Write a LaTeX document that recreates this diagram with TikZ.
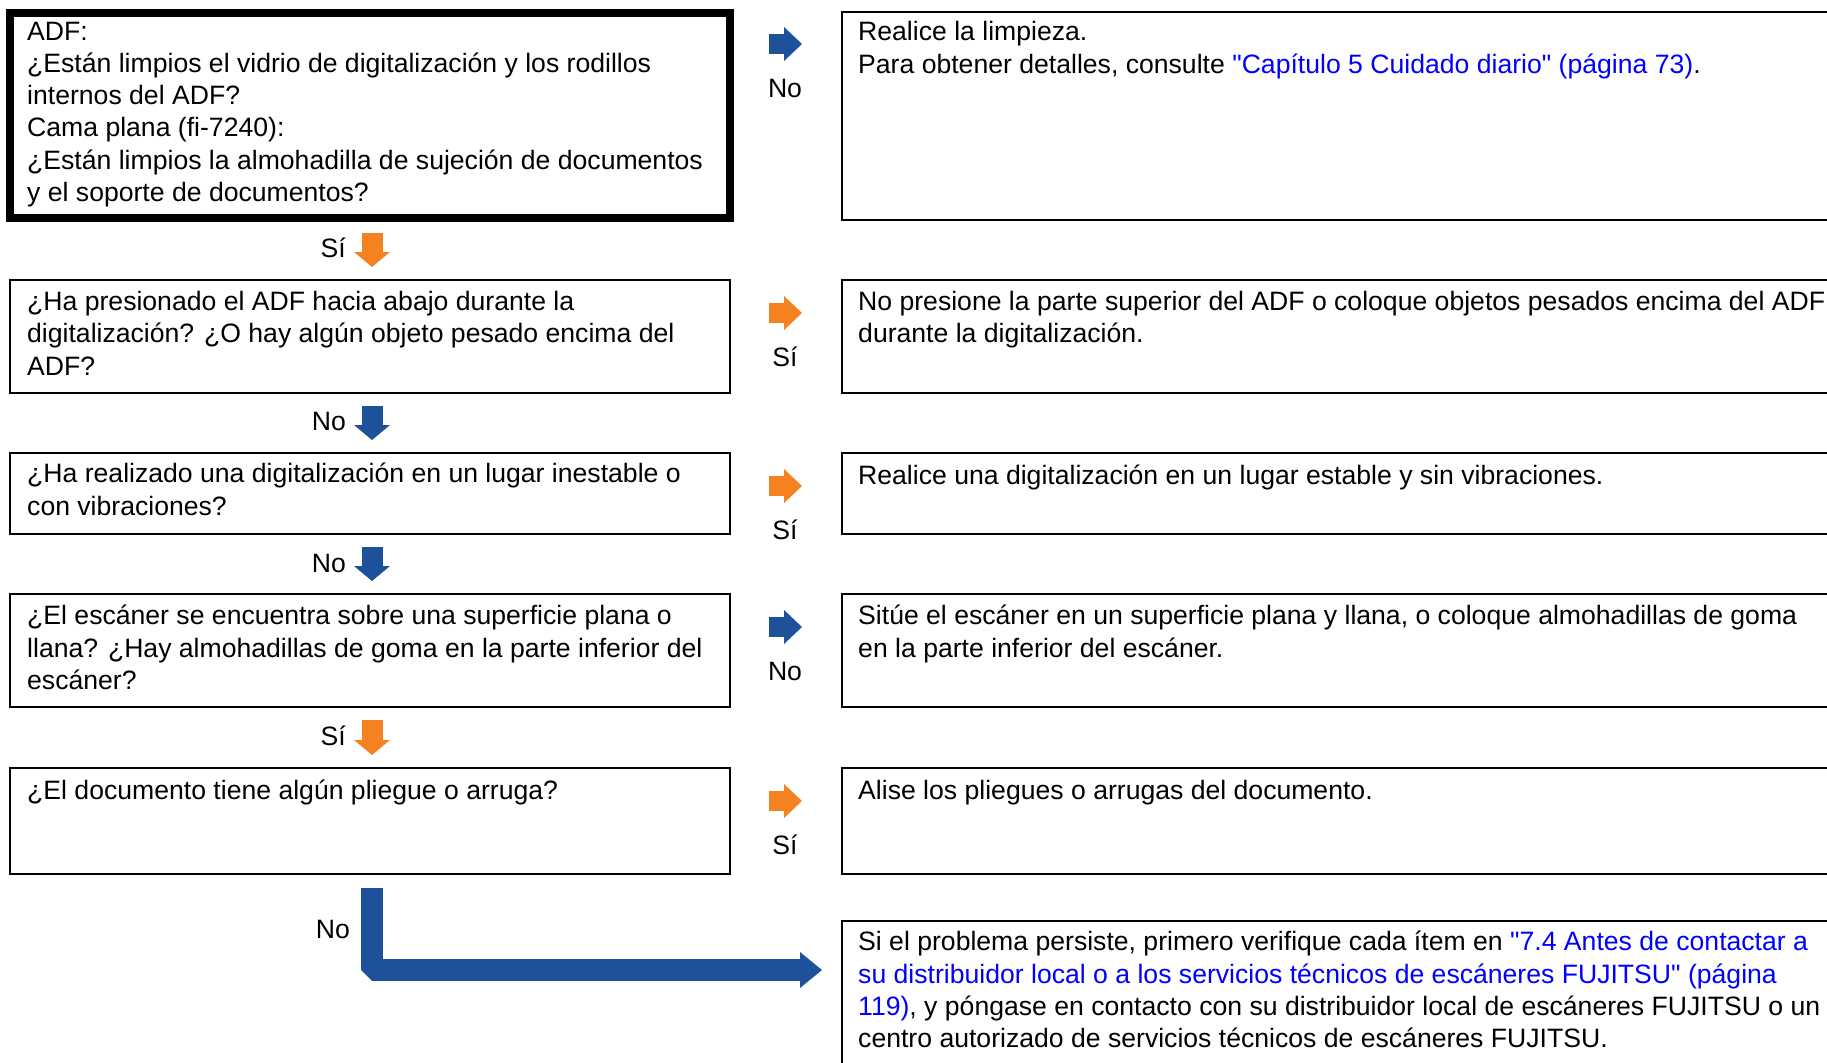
\documentclass[tikz,border=0pt]{standalone}
\usepackage{fontspec}
\setmainfont{Liberation Sans}[Ligatures=TeXOff]
\usetikzlibrary{arrows.meta,calc}
\definecolor{siorange}{RGB}{245,130,32}
\definecolor{noblue}{RGB}{29,82,155}
\definecolor{linkblue}{RGB}{0,0,255}
\newcommand{\flowfont}{\fontsize{26.6}{32.3}\selectfont}
\newcommand{\lnk}[1]{\textcolor{linkblue}{#1}}

\begin{document}
\begin{tikzpicture}[x=1pt, y=-1pt,
    every node/.style={font=\flowfont},
    qbox/.style={rectangle, draw=black, line width=2pt, anchor=north west,
                 inner sep=0pt, outer sep=0pt, minimum width=720pt},
    abox/.style={qbox, minimum width=1100pt},
    txt/.style={anchor=north west, inner sep=0pt, align=left, execute at begin node=\strut},
    lbl/.style={inner sep=0pt, text height=19pt, text depth=0pt},
    rarrow/.style={line width=20pt, -{Triangle[width=34pt, length=18pt, line width=0pt]},
                   shorten <=39pt, shorten >=40pt},
    darrow/.style={line width=21pt, -{Triangle[width=36pt, length=15pt, line width=0pt]},
                   shorten <=13pt, shorten >=13pt},
    siclr/.style={draw=siorange},
    noclr/.style={draw=noblue}
]
  \useasboundingbox (0,0) rectangle (1827,1062);
  \clip (0,0) rectangle (1827,1062);
  \coordinate (dnx) at (372,0);

  % question boxes (left column)
  \node[qbox, line width=8pt, minimum height=205pt] (b1) at (10,13) {};
  \node[qbox, minimum height=113pt] (b2) at (10,280) {};
  \node[qbox, minimum height=80.5pt] (b3) at (10,453) {};
  \node[qbox, minimum height=113pt] (b4) at (10,594) {};
  \node[qbox, minimum height=106pt] (b5) at (10,768) {};

  \node[txt] (b1t) at ($(b1.north west)+(17,8.5)$)
    {ADF:\\¿Están limpios el vidrio de digitalización y los rodillos\\internos del ADF?\\Cama plana (fi-7240):\\¿Están limpios la almohadilla de sujeción de documentos\\y el soporte de documentos?};
  \node[txt] (b2t) at ($(b2.north west)+(17,11)$)
    {¿Ha presionado el ADF hacia abajo durante la\\digitalización? ¿O hay algún objeto pesado encima del\\ADF?};
  \node[txt] (b3t) at ($(b3.north west)+(17,10)$)
    {¿Ha realizado una digitalización en un lugar inestable o\\con vibraciones?};
  \node[txt] (b4t) at ($(b4.north west)+(17,11)$)
    {¿El escáner se encuentra sobre una superficie plana o\\llana? ¿Hay almohadillas de goma en la parte inferior del\\escáner?};
  \node[txt] (b5t) at ($(b5.north west)+(17,8.5)$)
    {¿El documento tiene algún pliegue o arruga?};

  % action boxes (right column)
  \node[abox, minimum height=208pt] (r1) at (842,12) {};
  \node[abox, minimum height=113pt] (r2) at (842,280) {};
  \node[abox, minimum height=80.5pt] (r3) at (842,453) {};
  \node[abox, minimum height=113pt] (r4) at (842,594) {};
  \node[abox, minimum height=106pt] (r5) at (842,768) {};
  \node[abox, minimum height=300pt] (r6) at (842,921) {};

  \node[txt] (r1t) at ($(r1.north west)+(16,9.5)$)
    {Realice la limpieza.\\Para obtener detalles, consulte \lnk{"Capítulo 5 Cuidado diario" (página 73)}.};
  \node[txt] (r2t) at ($(r2.north west)+(16,11)$)
    {No presione la parte superior del ADF o coloque objetos pesados encima del ADF\\durante la digitalización.};
  \node[txt] (r3t) at ($(r3.north west)+(16,9)$)
    {Realice una digitalización en un lugar estable y sin vibraciones.};
  \node[txt] (r4t) at ($(r4.north west)+(16,11)$)
    {Sitúe el escáner en un superficie plana y llana, o coloque almohadillas de goma\\en la parte inferior del escáner.};
  \node[txt] (r5t) at ($(r5.north west)+(16,8.5)$)
    {Alise los pliegues o arrugas del documento.};
  \node[txt] (r6t) at ($(r6.north west)+(16,10)$)
    {Si el problema persiste, primero verifique cada ítem en \lnk{"7.4 Antes de contactar a}\\\lnk{su distribuidor local o a los servicios técnicos de escáneres FUJITSU" (página}\\\lnk{119)}, y póngase en contacto con su distribuidor local de escáneres FUJITSU o un\\centro autorizado de servicios técnicos de escáneres FUJITSU.};

  % answers to the right
  \draw[rarrow, noclr] ($(b1.north east)+(0,31)$) -- ($(r1.north west)+(0,32)$);
  \draw[rarrow, siclr] ($(b2.north east)+(0,33)$) -- ($(r2.north west)+(0,33)$);
  \draw[rarrow, siclr] ($(b3.north east)+(0,33)$) -- ($(r3.north west)+(0,33)$);
  \draw[rarrow, noclr] ($(b4.north east)+(0,33)$) -- ($(r4.north west)+(0,33)$);
  \draw[rarrow, siclr] ($(b5.north east)+(0,33)$) -- ($(r5.north west)+(0,33)$);
  \node[lbl] (no1) at (785,88) {No};
  \node[lbl] (si2) at (785,357) {Sí};
  \node[lbl] (si3) at (785,530) {Sí};
  \node[lbl] (no4) at (785,671) {No};
  \node[lbl] (si5) at (785,845) {Sí};

  % answers downwards
  \draw[darrow, siclr, shorten <=15pt] (b1.south -| dnx) -- (b2.north -| dnx);
  \draw[darrow, noclr] (b2.south -| dnx) -- (b3.north -| dnx);
  \draw[darrow, noclr] (b3.south -| dnx) -- (b4.north -| dnx);
  \draw[darrow, siclr] (b4.south -| dnx) -- (b5.north -| dnx);
  \node[lbl, anchor=east] (si12) at (346,248) {Sí};
  \node[lbl, anchor=east] (no23) at (346,421) {No};
  \node[lbl, anchor=east] (no34) at (346,563) {No};
  \node[lbl, anchor=east] (si45) at (346,736) {Sí};

  % last answer
  \draw[noclr, line width=21.5pt, line join=bevel, shorten <=14pt,
        -{Triangle[width=36pt, length=22pt, line width=0pt]}]
    (b5.south -| dnx) |- ($(r6.north west)+(-20,49)$);
  \node[lbl, anchor=east] (no5) at (350,929) {No};
\end{tikzpicture}
\end{document}
